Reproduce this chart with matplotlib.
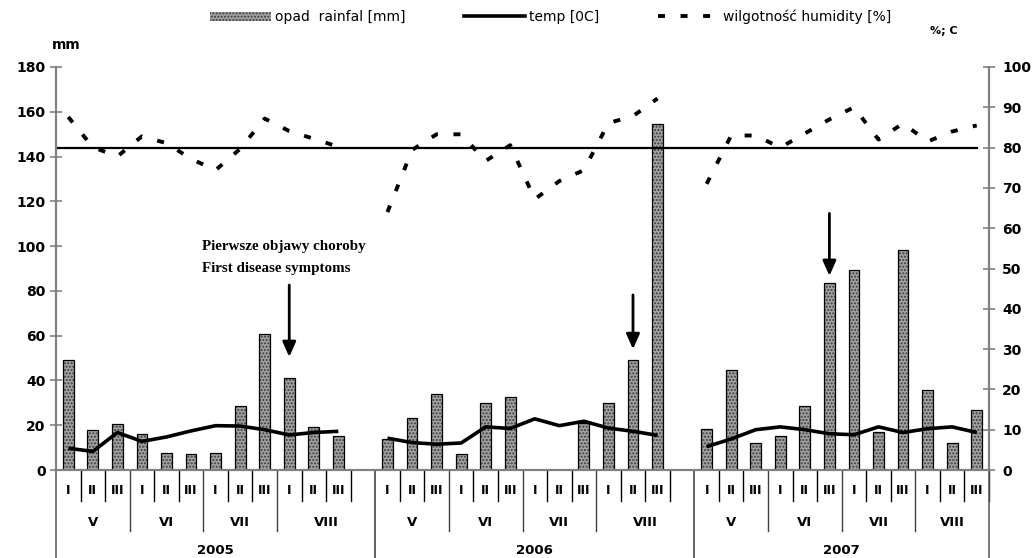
import numpy as np
import matplotlib.pyplot as plt
from matplotlib.patches import Patch
from matplotlib.lines import Line2D

years = ['2005', '2006', '2007']
months = ['V', 'VI', 'VII', 'VIII']
decades = ['I', 'II', 'III']

# opad [mm], dekady V-VIII
rain_2005 = [49, 17.7, 20.7, 16, 7.5, 7, 7.5, 28.6, 60.8, 41.2, 19, 15.1]
rain_2006 = [13.8, 23.1, 33.9, 7, 30, 32.7, 0, 0, 21, 30, 49.1, 154.7]
rain_2007 = [18.4, 44.7, 12, 15, 28.5, 83.7, 89.2, 16.8, 98.2, 35.7, 12, 27]

# temperatura [C]
temp_2005 = [5.4, 4.6, 9.3, 7.1, 8.2, 9.7, 11, 10.9, 10, 8.7, 9.3, 9.6]
temp_2006 = [7.9, 6.8, 6.4, 6.7, 10.7, 10.3, 12.7, 11, 12.1, 10.4, 9.6, 8.6]
temp_2007 = [5.8, 7.7, 10, 10.7, 10, 9, 8.75, 10.7, 9.3, 10.25, 10.7, 9.3]

# wilgotnosc [%]
hum_2005 = [87.6, 80.1, 77.8, 82.8, 81.1, 77.2, 74.4, 79.7, 87.2, 84.1, 82.2, 80.2]
hum_2006 = [64, 79.4, 83.3, 83.3, 76.7, 80.6, 67.2, 71.7, 74.4, 86.1, 87.8, 92.2]
hum_2007 = [71, 83, 83, 80, 83.5, 87, 90, 82, 86, 81.5, 84, 85.5]

hum_ref = 80

# strzalki: indeks dekady w roku, poczatek i koniec [mm]
arrow_year = [0, 1, 2]
arrow_dec = [9, 10, 5]
arrow_from = [82.6, 78.2, 114.6]
arrow_to = [50.5, 54, 86.7]

rains = [rain_2005, rain_2006, rain_2007]
temps = [temp_2005, temp_2006, temp_2007]
hums = [hum_2005, hum_2006, hum_2007]

bar_fc = '#a2a2a2'
bar_hc = '#3c3c3c'
dash = (0, (1.8, 4))

W, H = 1035, 558
fig = plt.figure(figsize=(W / 100, H / 100), dpi=100)
ax = fig.add_axes([56 / W, 1 - 470 / H, (989 - 56) / W, (470 - 67) / H])
ax2 = ax.twinx()

step = 13
for k in range(len(years)):
    x = np.arange(12) + step * k
    r = np.array(rains[k], dtype=float)
    m = r > 0
    ax.bar(x[m], r[m], 0.44, color=bar_fc, edgecolor=bar_hc, hatch='.....', lw=0, zorder=2)
    ax.bar(x[m], r[m], 0.44, fill=False, edgecolor='black', lw=0.9, zorder=3)
    ax2.plot(x, temps[k], color='black', lw=2.6, solid_capstyle='butt')
    ax2.plot(x, hums[k], color='black', lw=2.8, ls=dash)

ax2.axhline(hum_ref, xmin=0, xmax=0.987, color='black', lw=1.6)

ax.set_xlim(-0.5, step * 3 - 1.5)
ax.set_ylim(0, 180)
ax2.set_ylim(0, 100)
ax.set_yticks(np.arange(0, 181, 20))
ax2.set_yticks(np.arange(0, 101, 10))
ax.set_xticks([])

for a in (ax, ax2):
    a.spines['top'].set_visible(False)
    for s in ('left', 'right', 'bottom'):
        a.spines[s].set_color('#808080')
        a.spines[s].set_linewidth(1.5)
    a.tick_params(axis='y', direction='inout', length=9, width=1.2, color='#808080', labelsize=10)
ax.tick_params(axis='y', pad=3)
ax2.tick_params(axis='y', pad=5)
for lbl in ax.get_yticklabels() + ax2.get_yticklabels():
    lbl.set_fontweight('bold')

# opis osi x
tr = ax.get_xaxis_transform()
ph = 470 - 67
y_dec, y_mon, y_yr = -31 / ph, -61 / ph, -89 / ph
for k, yr in enumerate(years):
    base = step * k
    end = base + 12.5 if k < len(years) - 1 else base + 11.5
    for j in range(12):
        ax.text(base + j, -20 / ph, decades[j % 3], transform=tr, ha='center', va='center',
                fontsize=9, fontweight='bold')
        if j % 3 == 2 and j < 11:
            ax.plot([base + j + 0.5] * 2, [0, y_mon], transform=tr, color='#404040', lw=1, clip_on=False)
        else:
            ax.plot([base + j + 0.5] * 2, [0, y_dec], transform=tr, color='black', lw=1, clip_on=False)
    for i, mo in enumerate(months):
        left = base + 3 * i - 0.5
        right = base + 3 * i + 2.5 if i < 3 else end
        ax.text((left + right) / 2, -52 / ph, mo, transform=tr, ha='center', va='center',
                fontsize=9.5, fontweight='bold')
    ax.plot([base - 0.5] * 2, [0, y_yr], transform=tr, color='#606060', lw=1.2, clip_on=False)
    ax.plot([end] * 2, [0, y_yr], transform=tr, color='#606060', lw=1.2, clip_on=False)
    ax.text((base - 0.5 + end) / 2, -80 / ph, yr, transform=tr, ha='center', va='center',
            fontsize=9.5, fontweight='bold')

for yi, d, y0, y1 in zip(arrow_year, arrow_dec, arrow_from, arrow_to):
    xa = step * yi + d
    ax.annotate('', xy=(xa, y1), xytext=(xa, y0),
                arrowprops=dict(arrowstyle='-|>,head_length=0.9,head_width=0.4', color='black',
                                lw=2, shrinkA=0, shrinkB=0), zorder=5)

ax.text(5.45, 100, 'Pierwsze objawy choroby', ha='left', va='center', fontsize=10.8,
        fontweight='bold', family='Liberation Serif')
ax.text(5.45, 89.8, 'First disease symptoms', ha='left', va='center', fontsize=10.8,
        fontweight='bold', family='Liberation Serif')

fig.text(52 / W, 1 - 45 / H, 'mm', fontsize=10, fontweight='bold', va='center')
fig.text(930 / W, 1 - 31 / H, '%; C', fontsize=8, fontweight='bold', va='center')

handles = [Patch(facecolor=bar_fc, edgecolor=bar_hc, hatch='.....', lw=0),
           Line2D([], [], color='black', lw=2.6),
           Line2D([], [], color='black', lw=2.8, ls=dash)]
labels = ['opad  rainfal [mm]', 'temp [0C]', 'wilgotność humidity [%]']
fig.legend(handles, labels, loc='center', bbox_to_anchor=(0.532, 1 - 17 / H), ncol=3,
           frameon=False, fontsize=10, handlelength=4.4, handletextpad=0.3, columnspacing=4.2)

fig.savefig('out.png', dpi=100)
